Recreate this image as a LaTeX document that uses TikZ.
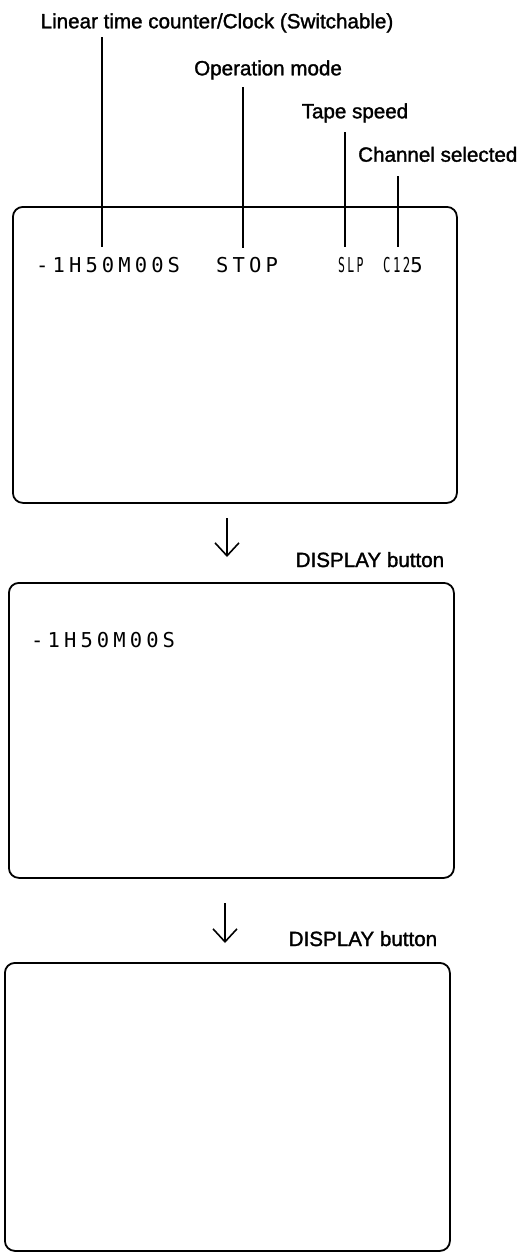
\documentclass[tikz,border=0pt]{standalone}
\usepackage{fontspec}
\setmainfont{Liberation Sans}
\newfontfamily\labfont[FakeBold=1.5]{Liberation Sans}
\newfontfamily\scrfont[LetterSpace=20]{DejaVu Sans Mono}
\usetikzlibrary{arrows.meta}
\begin{document}
\begin{tikzpicture}[x=1pt,y=-1pt,
  lab/.style={anchor=base west, inner sep=0pt, font=\fontsize{20.6}{24}\labfont},
  scr/.style={anchor=base west, inner sep=0pt, font=\fontsize{20.5}{24}\scrfont},
  screen/.style={draw, line width=1.8pt, rounded corners=10pt, anchor=north west, inner sep=0pt},
  lead/.style={line width=1.8pt},
  flow/.style={line width=1.6pt, -{Straight Barb[length=13pt,width=24pt,line width=1.6pt]}}]
\useasboundingbox (0,0) rectangle (531,1253);

% screens
\node[screen, minimum width=444pt, minimum height=296pt] (s1) at (12,206) {};
\node[screen, minimum width=445pt, minimum height=295pt] (s2) at (8,582) {};
\node[screen, minimum width=445pt, minimum height=288pt] (s3) at (4,962) {};

% top labels
\node[lab] (l1) at (40.5,28.3) {Linear time counter/Clock (Switchable)};
\node[lab] (l2) at (194,75.3) {Operation mode};
\node[lab] (l3) at (301.5,118.3) {Tape speed};
\node[lab] (l4) at (358,161.7) {Channel selected};

% screen texts
\node[scr] (t1) at (36,272) {-1H50M00S};
\node[scr] (t2) at (216,272) {STOP};
\node[scr] (t3) at (338,272) {\scalebox{0.56}[1]{SLP}};
\node[scr] (t4) at (383,272) {\scalebox{0.6}[1]{C12}5};
\node[scr] (t5) at (31,647) {-1H50M00S};

% leader lines
\coordinate (p1a) at (102,37);  \coordinate (p1b) at (102,247);
\coordinate (p2a) at (243,87);  \coordinate (p2b) at (243,248);
\coordinate (p3a) at (345,132); \coordinate (p3b) at (345,247);
\coordinate (p4a) at (398,176); \coordinate (p4b) at (398,247);
\draw[lead] (p1a) -- (p1b);
\draw[lead] (p2a) -- (p2b);
\draw[lead] (p3a) -- (p3b);
\draw[lead] (p4a) -- (p4b);

% arrows
\coordinate (a1s) at (227,518); \coordinate (a1e) at (227,557);
\coordinate (a2s) at (225,903); \coordinate (a2e) at (225,943);
\draw[flow] (a1s) -- (a1e);
\draw[flow] (a2s) -- (a2e);
\node[lab] (d1) at (295.5,567) {DISPLAY button};
\node[lab] (d2) at (288.5,946) {DISPLAY button};
\end{tikzpicture}
\end{document}
